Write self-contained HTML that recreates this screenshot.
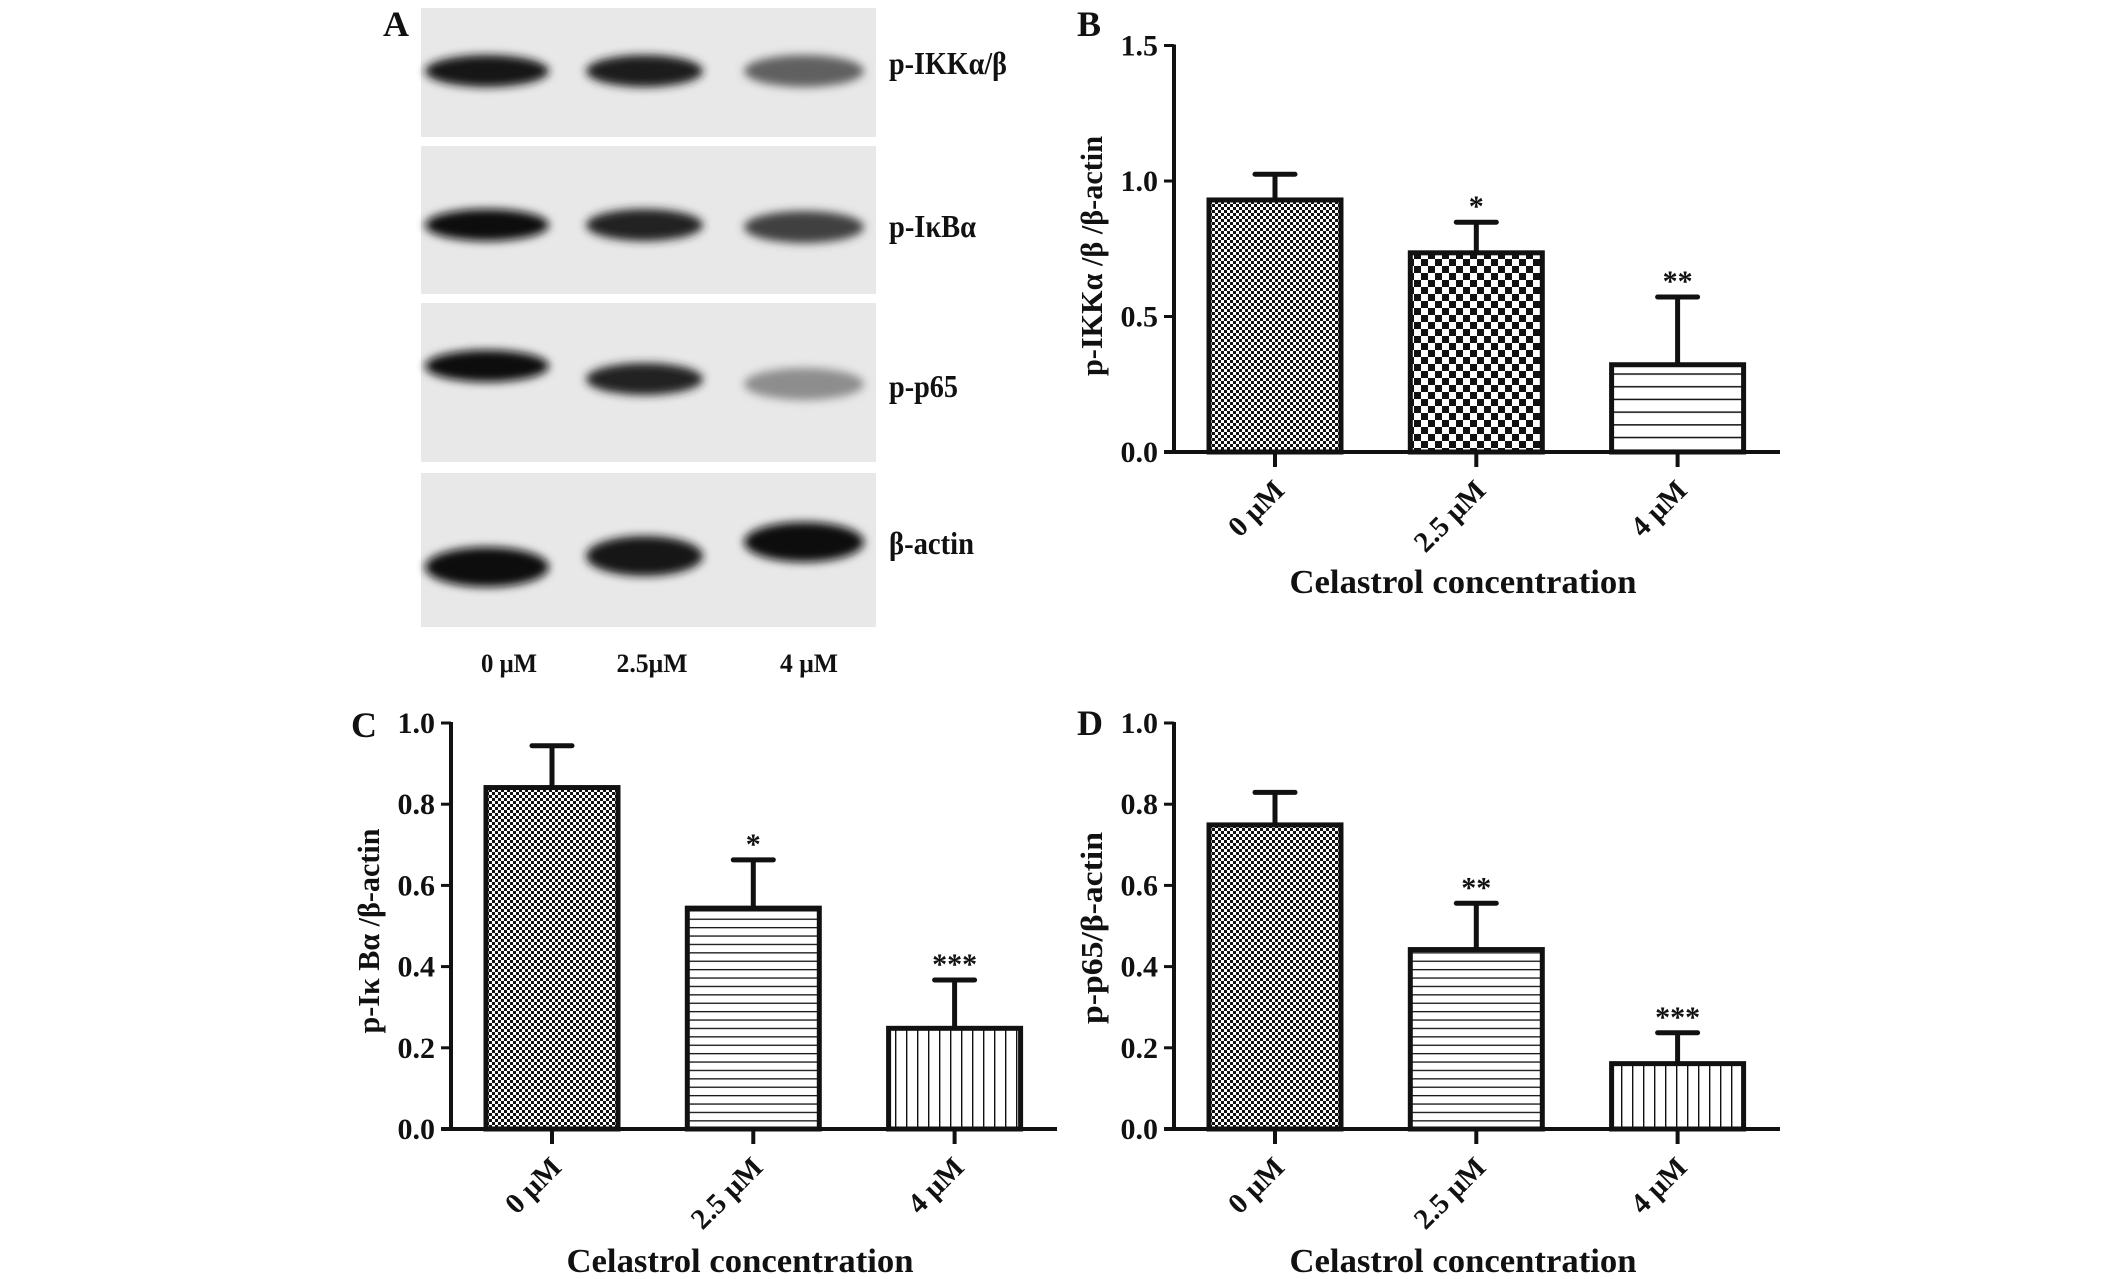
<!DOCTYPE html>
<html><head><meta charset="utf-8">
<style>
html,body{margin:0;padding:0;background:#fff;}
svg{display:block;}
text{font-family:"Liberation Serif",serif;font-weight:bold;fill:#111;}
</style></head>
<body>
<svg id="fig" width="2126" height="1279" viewBox="0 0 2126 1279" xmlns="http://www.w3.org/2000/svg">
<defs>
  <filter id="blur" x="-30%" y="-80%" width="160%" height="260%"><feGaussianBlur stdDeviation="4.5"/></filter>
  <pattern id="pFine" width="6" height="6" patternUnits="userSpaceOnUse"><rect width="6" height="6" fill="#fff"/><rect width="3" height="3" fill="#111"/><rect x="3" y="3" width="3" height="3" fill="#111"/></pattern>
  <pattern id="pCoarse" width="14" height="14" patternUnits="userSpaceOnUse"><rect width="14" height="14" fill="#fff"/><rect width="7" height="7" fill="#111"/><rect x="7" y="7" width="7" height="7" fill="#111"/></pattern>
  <pattern id="pH" width="10" height="8.4" patternUnits="userSpaceOnUse"><rect width="10" height="8.4" fill="#fff"/><rect y="3" width="10" height="1.3" fill="#111"/></pattern>
  <pattern id="pHwide" width="10" height="12.7" patternUnits="userSpaceOnUse"><rect width="10" height="12.7" fill="#fff"/><rect y="5" width="10" height="1.5" fill="#111"/></pattern>
  <pattern id="pV" width="11" height="10" patternUnits="userSpaceOnUse"><rect width="11" height="10" fill="#fff"/><rect x="4" width="1.4" height="10" fill="#111"/></pattern>
</defs>
<g id="blot"></g>
<g id="charts"></g>
</svg>
<script>
// ---- Panel A blot data ----
const blotProteins = ["p-IKKα/β", "p-IκBα", "p-p65", "β-actin"];
const blotLanes = ["0 μM", "2.5μM", "4 μM"];
// band darkness (0 = none, 1 = black) per protein per lane
const bandIntensityIKK = [0.95, 0.92, 0.6];
const bandIntensityIkB = [0.97, 0.88, 0.75];
const bandIntensityP65 = [0.98, 0.88, 0.4];
const bandIntensityActin = [0.98, 0.95, 0.96];

// ---- Chart data ----
const categories = ["0 μM", "2.5 μM", "4 μM"];
const bValues = [0.93, 0.735, 0.322];
const bErrors = [0.095, 0.113, 0.25];
const bStars = ["", "*", "**"];
const bTicks = [0.0, 0.5, 1.0, 1.5];
const cValues = [0.841, 0.544, 0.248];
const cErrors = [0.103, 0.119, 0.119];
const cStars = ["", "*", "***"];
const cTicks = [0.0, 0.2, 0.4, 0.6, 0.8, 1.0];
const dValues = [0.749, 0.442, 0.161];
const dErrors = [0.08, 0.114, 0.076];
const dStars = ["", "**", "***"];
const dTicks = [0.0, 0.2, 0.4, 0.6, 0.8, 1.0];

const NS = "http://www.w3.org/2000/svg";
function mk(tag, attrs, parent) {
  const e = document.createElementNS(NS, tag);
  for (const k in attrs) e.setAttribute(k, attrs[k]);
  if (parent) parent.appendChild(e);
  return e;
}

// ---- Draw blot ----
const blot = document.getElementById("blot");
const strips = [[8,137],[146,294],[303,462],[473,627]];
const laneX = [[427,547],[588,701],[746,862]];
const bandY = [[71,71,71],[225,225,227],[366,379,384],[567,556,542]];
const intens = [bandIntensityIKK, bandIntensityIkB, bandIntensityP65, bandIntensityActin];
const labelBase = [74, 237, 397, 554];
const labelW = [118, 87, 69, 85];
strips.forEach((s, i) => {
  const r = mk("rect", {x:421, y:s[0], width:455, height:s[1]-s[0], fill:"#e8e8e8"}, blot);
  
  
  laneX.forEach((lx, j) => {
    const v = intens[i][j];
    const g = Math.round(230 - 222 * v);
    const e = mk("ellipse", {cx:(lx[0]+lx[1])/2, cy:bandY[i][j], rx:(lx[1]-lx[0])/2+2, ry:i===3?20:16, fill:`rgb(${g},${g},${g})`, filter:"url(#blur)"}, blot);
    
    
  });
  const t = mk("text", {x:889, y:labelBase[i], "font-size":32, textLength:labelW[i], lengthAdjust:"spacingAndGlyphs"}, blot);
  t.textContent = blotProteins[i];
  
  
});
const laneCx = [509, 652, 809];
const laneW = [56, 71, 58];
blotLanes.forEach((l, j) => {
  const t = mk("text", {x:laneCx[j], y:672, "font-size":26, "text-anchor":"middle", textLength:laneW[j], lengthAdjust:"spacingAndGlyphs"}, blot);
  t.textContent = l;
  
  
});
const la = mk("text", {x:383, y:36, "font-size":36}, blot);
la.textContent = "A";



// ---- Draw bar charts ----
const charts = document.getElementById("charts");
function drawChart(cfg) {
  const g = mk("g", {}, charts);
  
  
  const yS = v => cfg.y0 - v * cfg.unit;
  const xS = i => cfg.axisX + 101 + i * 201.3;
  cfg.values.forEach((v, i) => {
    const cx = xS(i), top = yS(v), et = yS(v + cfg.errors[i]);
    const eb = mk("line", {x1:cx, y1:top, x2:cx, y2:et, stroke:"#111", "stroke-width":5}, g);
    
    
    const cap = mk("line", {x1:cx-20, y1:et, x2:cx+20, y2:et, stroke:"#111", "stroke-width":5, "stroke-linecap":"round"}, g);
    
    
    const b = mk("rect", {x:cx-66, y:top, width:132, height:cfg.y0-top, fill:`url(#${cfg.patterns[i]})`, stroke:"#111", "stroke-width":5}, g);
    
    
    if (cfg.stars[i]) {
      const s = mk("text", {x:cx, y:et - 6, "font-size":30, "text-anchor":"middle"}, g);
      s.textContent = cfg.stars[i];
      
      
    }
    const tk = mk("line", {x1:cx, y1:cfg.y0, x2:cx, y2:cfg.y0+15, stroke:"#111", "stroke-width":4}, g);
    
    
    const lx = cx + 11, ly = cfg.y0 + 40;
    const tl = mk("text", {x:lx, y:ly, "font-size":29, "text-anchor":"end", transform:`rotate(-45 ${lx} ${ly})`}, g);
    tl.textContent = categories[i];
    
    
  });
  const maxT = cfg.ticks[cfg.ticks.length - 1];
  const ya = mk("line", {x1:cfg.axisX, y1:yS(maxT)-1, x2:cfg.axisX, y2:cfg.y0+2, stroke:"#111", "stroke-width":4}, g);
  
  
  const xa = mk("line", {x1:cfg.axisX-10, y1:cfg.y0, x2:cfg.axisX+606, y2:cfg.y0, stroke:"#111", "stroke-width":4}, g);
  
  
  cfg.ticks.forEach(t => {
    const y = yS(t);
    const tk = mk("line", {x1:cfg.axisX-10, y1:y, x2:cfg.axisX, y2:y, stroke:"#111", "stroke-width":3}, g);
    
    
    const tl = mk("text", {x:cfg.axisX-16, y:y+10, "font-size":30, "text-anchor":"end"}, g);
    tl.textContent = t.toFixed(1);
    
    
  });
  const yt = mk("text", {x:0, y:0, "font-size":31, "text-anchor":"middle", textLength:cfg.yTitleLen, lengthAdjust:"spacingAndGlyphs", transform:`translate(${cfg.axisX-72} ${cfg.yTitleCy}) rotate(-90)`}, g);
  yt.textContent = cfg.yTitle;
  
  
  const xt = mk("text", {x:cfg.axisX+289, y:cfg.xTitleY, "font-size":34, "text-anchor":"middle", textLength:347, lengthAdjust:"spacingAndGlyphs"}, g);
  xt.textContent = "Celastrol concentration";
  
  
  const pl = mk("text", {x:cfg.labelX, y:cfg.labelY, "font-size":36}, g);
  pl.textContent = cfg.label;
  
  
}

drawChart({name:"chart-b-p-ikk", values:bValues, errors:bErrors, stars:bStars, ticks:bTicks,
  axisX:1174, y0:452, unit:271, patterns:["pFine","pCoarse","pHwide"],
  yTitle:"p-IKKα /β /β-actin", yTitleLen:240, yTitleCy:256, xTitleY:593, label:"B", labelX:1077, labelY:36});
drawChart({name:"chart-c-p-ikba", values:cValues, errors:cErrors, stars:cStars, ticks:cTicks,
  axisX:451, y0:1129, unit:406, patterns:["pFine","pH","pV"],
  yTitle:"p-Iκ Bα /β-actin", yTitleLen:205, yTitleCy:931, xTitleY:1272, label:"C", labelX:351, labelY:737});
drawChart({name:"chart-d-p-p65", values:dValues, errors:dErrors, stars:dStars, ticks:dTicks,
  axisX:1174, y0:1129, unit:406, patterns:["pFine","pH","pV"],
  yTitle:"p-p65/β-actin", yTitleLen:192, yTitleCy:928, xTitleY:1272, label:"D", labelX:1077, labelY:735});
</script>
</body></html>
